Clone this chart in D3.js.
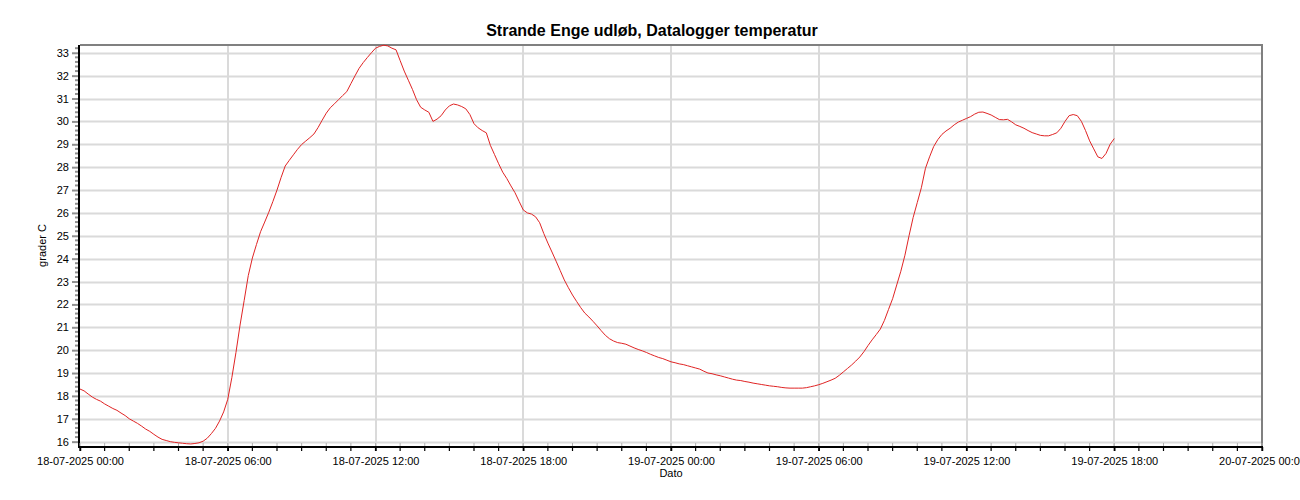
<!DOCTYPE html>
<html>
<head>
<meta charset="utf-8">
<script src="https://cdn.jsdelivr.net/npm/d3@7"></script>
<style>
  html, body { margin: 0; padding: 0; background: #fff; }
  svg { display: block; font-family: "Liberation Sans", Arial, sans-serif; }
</style>
</head>
<body>
<svg id="chart" width="1300" height="500"></svg>
<script>
// ---- data ----
const chartTitle = "Strande Enge udløb, Datalogger temperatur";
const yLabel = "grader C";
const xLabel = "Dato";
const startTime = "2025-07-18T00:00";
const endTime = "2025-07-20T00:00";
const stepMinutes = 10;
const temps = [
  // 18-07-2025 00:00 ... 23:50
  18.30, 18.22, 18.08, 17.95, 17.85, 17.77,
  17.65, 17.55, 17.45, 17.37, 17.25, 17.14,
  17.00, 16.90, 16.80, 16.68, 16.55, 16.45,
  16.32, 16.20, 16.10, 16.05, 16.00, 15.97,
  15.95, 15.93, 15.91, 15.90, 15.92, 15.95,
  16.02, 16.15, 16.35, 16.58, 16.90, 17.30,
  17.85, 18.80, 19.90, 21.10, 22.17, 23.26,
  24.03, 24.62, 25.18, 25.60, 26.03, 26.50,
  27.00, 27.55, 28.05, 28.30, 28.54, 28.78,
  28.99, 29.14, 29.29, 29.45, 29.73, 30.05,
  30.36, 30.60, 30.77, 30.95, 31.13, 31.30,
  31.65, 31.99, 32.32, 32.57, 32.79, 33.00,
  33.20, 33.28, 33.33, 33.30, 33.20, 33.13,
  32.66, 32.20, 31.80, 31.40, 30.95, 30.62,
  30.50, 30.40, 30.00, 30.10, 30.25, 30.50,
  30.68, 30.76, 30.72, 30.65, 30.55, 30.30,
  29.90, 29.72, 29.60, 29.50, 28.95, 28.55,
  28.15, 27.78, 27.50, 27.18, 26.88, 26.50,
  26.13, 26.00, 25.95, 25.83, 25.57, 25.10,
  24.68, 24.29, 23.89, 23.48, 23.07, 22.73,
  22.41, 22.13, 21.86, 21.62, 21.45, 21.26,
  21.06, 20.85, 20.65, 20.50, 20.40, 20.33,
  20.30, 20.26, 20.18, 20.10, 20.03, 19.97,
  19.90, 19.82, 19.75, 19.68, 19.63, 19.56,
  // 19-07-2025 00:00 ... 18:00
  19.49, 19.45, 19.40, 19.37, 19.32, 19.27,
  19.22, 19.17, 19.08, 19.00, 18.97, 18.92,
  18.88, 18.83, 18.78, 18.73, 18.69, 18.67,
  18.63, 18.60, 18.56, 18.53, 18.50, 18.47,
  18.44, 18.42, 18.40, 18.37, 18.35, 18.34,
  18.34, 18.34, 18.34, 18.36, 18.40, 18.44,
  18.49, 18.55, 18.62, 18.69, 18.77, 18.90,
  19.05, 19.20, 19.35, 19.52, 19.70, 19.93,
  20.20, 20.45, 20.68, 20.92, 21.30, 21.78,
  22.25, 22.85, 23.45, 24.15, 25.00, 25.80,
  26.45, 27.10, 27.95, 28.45, 28.90, 29.20,
  29.43, 29.58, 29.70, 29.85, 29.97, 30.05,
  30.13, 30.21, 30.32, 30.40, 30.41, 30.35,
  30.28, 30.18, 30.08, 30.07, 30.09, 29.98,
  29.85, 29.78, 29.70, 29.60, 29.51, 29.45,
  29.39, 29.37, 29.37, 29.43, 29.50, 29.70,
  30.00, 30.25, 30.30, 30.25, 30.00, 29.60,
  29.15, 28.80, 28.45, 28.38, 28.60, 29.00,
  29.25
];
const yTicks = [16, 17, 18, 19, 20, 21, 22, 23, 24, 25, 26, 27, 28, 29, 30, 31, 32, 33];
const yDomain = [15.81, 33.34];
const majorTickHours = 6;
const minorTickMinutes = 90;

// ---- layout ----
const svg = d3.select("#chart");
const L = 80, T = 45, R = 1262, B = 446;

const parse = d3.timeParse("%Y-%m-%dT%H:%M");
const t0 = parse(startTime), t1 = parse(endTime);
const data = temps.map((v, i) => ({ t: d3.timeMinute.offset(t0, i * stepMinutes), v }));

const x = d3.scaleTime().domain([t0, t1]).range([L, R]);
const y = d3.scaleLinear().domain(yDomain).range([B, T]);

const majorTimes = d3.timeHour.every(majorTickHours).range(t0, d3.timeMinute.offset(t1, 1));
const minorTimes = d3.timeMinute.every(minorTickMinutes).range(t0, d3.timeMinute.offset(t1, 1));
const fmt = d3.timeFormat("%d-%m-%Y %H:%M");

// grid
const grid = svg.append("g");
grid.selectAll("line.h").data(yTicks).join("line")
  .attr("x1", L).attr("x2", R)
  .attr("y1", d => Math.round(y(d)) + 0.5).attr("y2", d => Math.round(y(d)) + 0.5)
  .attr("stroke", "#dadada").attr("stroke-width", 2);
grid.selectAll("line.v").data(majorTimes.slice(1, -1)).join("line")
  .attr("x1", d => Math.round(x(d))).attr("x2", d => Math.round(x(d)))
  .attr("y1", T).attr("y2", B)
  .attr("stroke", "#dadada").attr("stroke-width", 2);

// top / right frame
svg.append("line").attr("x1", L).attr("x2", R + 1).attr("y1", T).attr("y2", T)
  .attr("stroke", "#808080").attr("stroke-width", 2);
svg.append("line").attr("x1", R).attr("x2", R).attr("y1", T).attr("y2", B)
  .attr("stroke", "#808080").attr("stroke-width", 2);

// y axis
const yAxis = d3.axisLeft(y).tickValues(yTicks).tickSize(6).tickPadding(3).tickFormat(d3.format("d"));
const gy = svg.append("g").attr("transform", `translate(${L - 2},0)`).call(yAxis);
gy.select(".domain").remove();
gy.selectAll(".tick line").attr("stroke", "#909090").attr("stroke-width", 2);
gy.selectAll(".tick text").attr("font-size", 11).attr("fill", "#000")
  .attr("font-family", "Liberation Sans, Arial, sans-serif");
const yMinor = d3.range(Math.ceil(yDomain[0] * 5), Math.floor(yDomain[1] * 5) + 1)
  .map(k => k / 5).filter(v => Math.abs(v - Math.round(v)) > 1e-6);
svg.append("g").selectAll("line").data(yMinor).join("line")
  .attr("x1", L - 5).attr("x2", L - 2)
  .attr("y1", d => y(d)).attr("y2", d => y(d))
  .attr("stroke", "#909090").attr("stroke-width", 2);
svg.append("line").attr("x1", L - 1).attr("x2", L - 1).attr("y1", T).attr("y2", B + 2)
  .attr("stroke", "#000").attr("stroke-width", 2);

// x axis
const xAxis = d3.axisBottom(x).tickValues(majorTimes).tickSize(4).tickPadding(6).tickFormat(fmt);
const gx = svg.append("g").attr("transform", `translate(0,${B + 1})`).call(xAxis);
gx.select(".domain").remove();
gx.selectAll(".tick line").attr("stroke", "#000").attr("stroke-width", 1.5);
gx.selectAll(".tick text").attr("font-size", 11).attr("fill", "#000")
  .attr("font-family", "Liberation Sans, Arial, sans-serif");
svg.append("g").selectAll("line").data(minorTimes).join("line")
  .attr("x1", d => x(d)).attr("x2", d => x(d))
  .attr("y1", B + 1).attr("y2", B + 5)
  .attr("stroke", "#000").attr("stroke-width", 1.2);
svg.append("g").selectAll("line").data(minorTimes).join("line")
  .attr("x1", d => x(d)).attr("x2", d => x(d))
  .attr("y1", B - 3).attr("y2", B)
  .attr("stroke", "#b0b0b0").attr("stroke-width", 1);
svg.append("line").attr("x1", L - 2).attr("x2", R + 1).attr("y1", B + 1).attr("y2", B + 1)
  .attr("stroke", "#000").attr("stroke-width", 2);

// line
const line = d3.line().x(d => x(d.t)).y(d => y(d.v));
svg.append("path").datum(data).attr("d", line)
  .attr("fill", "none").attr("stroke", "#e02424").attr("stroke-width", 1);

// titles
svg.append("text").attr("x", 652).attr("y", 36).attr("text-anchor", "middle")
  .attr("font-size", 16).attr("font-weight", "bold").text(chartTitle);
svg.append("text").attr("transform", `translate(46,${(T + B) / 2}) rotate(-90)`)
  .attr("text-anchor", "middle").attr("font-size", 11).text(yLabel);
svg.append("text").attr("x", (L + R) / 2).attr("y", 477).attr("text-anchor", "middle")
  .attr("font-size", 11).text(xLabel);
</script>
</body>
</html>
